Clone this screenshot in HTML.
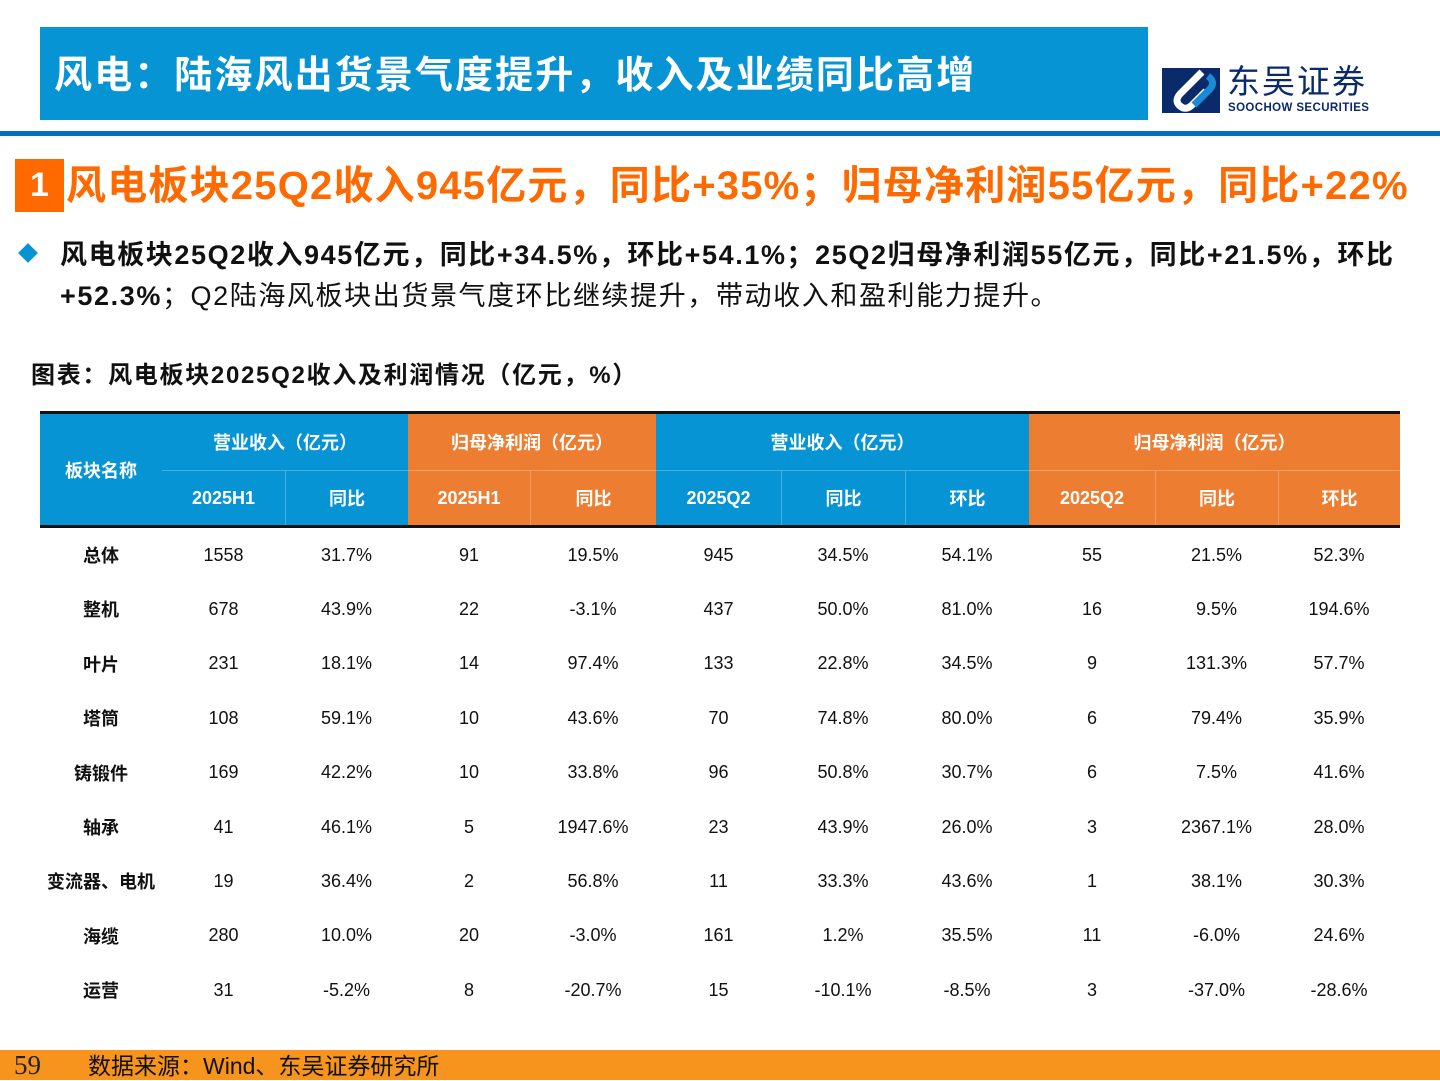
<!DOCTYPE html>
<html><head><meta charset="utf-8">
<style>
*{margin:0;padding:0;box-sizing:border-box}
body{width:1440px;height:1080px;position:relative;background:#fff;overflow:hidden;font-family:"Liberation Sans","Noto Sans CJK SC",sans-serif}
.abs{position:absolute}
.cell{position:absolute;display:flex;align-items:center;justify-content:center;white-space:nowrap}
</style></head><body>
<div class="abs" style="left:40px;top:27px;width:1108px;height:93px;background:#0794d4"></div>
<div class="abs" style="left:54px;top:52px;font-size:38px;line-height:48px;font-weight:bold;color:#fff;letter-spacing:2.1px;white-space:nowrap">风电：陆海风出货景气度提升，收入及业绩同比高增</div>
<div class="abs" style="left:1162px;top:68px;width:58px;height:45px">
<svg width="58" height="45"><rect x="0" y="0" width="58" height="45" fill="#0a2a6b"/><path d="M40 4 L18 26 Q12 33 18 38 Q24 43 30 37 L44 23" stroke="#fff" stroke-width="7" fill="none"/><path d="M46 8 Q54 14 48 21 L32 37" stroke="#1a8ad4" stroke-width="7" fill="none"/></svg></div>
<div class="abs" style="left:1227px;top:63px;font-size:33px;line-height:38px;color:#0a2a6b;letter-spacing:2px">东吴证券</div>
<div class="abs" style="left:1228px;top:102px;font-size:11.5px;line-height:13px;font-weight:bold;color:#0a2a6b;letter-spacing:0.4px">SOOCHOW SECURITIES</div>
<div class="abs" style="left:0;top:131px;width:1440px;height:5px;background:#0070c0"></div>
<div class="abs" style="left:15px;top:159px;width:49px;height:53px;background:#ff6a00;color:#fff;font-size:34px;font-weight:bold;text-align:center;line-height:53px">1</div>
<div class="abs" style="left:66px;top:160px;font-size:40px;line-height:52px;font-weight:bold;color:#ff6a00;white-space:nowrap;letter-spacing:1.2px">风电板块25Q2收入945亿元，同比+35%；归母净利润55亿元，同比+22%</div>
<div class="abs" style="left:21px;top:246px;width:14px;height:14px;background:#0794d4;transform:rotate(45deg)"></div>
<div class="abs" style="left:60px;top:235px;width:1380px;font-size:27px;line-height:41px;color:#111;white-space:nowrap;letter-spacing:1.6px"><b>风电板块25Q2收入945亿元，同比+34.5%，环比+54.1%；25Q2归母净利润55亿元，同比+21.5%，环比</b><br><b>+52.3%</b>；Q2陆海风板块出货景气度环比继续提升，带动收入和盈利能力提升。</div>
<div class="abs" style="left:31px;top:355px;font-size:24px;font-weight:bold;color:#111;letter-spacing:1.7px;white-space:nowrap">图表：风电板块2025Q2收入及利润情况（亿元，%）</div>
<div id="tbl" class="abs" style="left:0;top:0;width:1440px;height:1040px"></div>
<div class="abs" style="left:0;top:1050px;width:1440px;height:30px;background:#f7941d"></div>
<div class="abs" style="left:14px;top:1050px;font-family:'Liberation Serif',serif;font-size:27px;color:#222">59</div>
<div class="abs" style="left:88px;top:1051px;font-size:23px;line-height:30px;color:#111">数据来源：Wind、东吴证券研究所</div>
<script>
const cols=[40,162,285,408,530,656,781,905,1029,1155,1278,1400];
const rowNames=["总体","整机","叶片","塔筒","铸锻件","轴承","变流器、电机","海缆","运营"];
const revH1=["1558","678","231","108","169","41","19","280","31"];
const revH1Yoy=["31.7%","43.9%","18.1%","59.1%","42.2%","46.1%","36.4%","10.0%","-5.2%"];
const npH1=["91","22","14","10","10","5","2","20","8"];
const npH1Yoy=["19.5%","-3.1%","97.4%","43.6%","33.8%","1947.6%","56.8%","-3.0%","-20.7%"];
const revQ2=["945","437","133","70","96","23","11","161","15"];
const revQ2Yoy=["34.5%","50.0%","22.8%","74.8%","50.8%","43.9%","33.3%","1.2%","-10.1%"];
const revQ2Qoq=["54.1%","81.0%","34.5%","80.0%","30.7%","26.0%","43.6%","35.5%","-8.5%"];
const npQ2=["55","16","9","6","6","3","1","11","3"];
const npQ2Yoy=["21.5%","9.5%","131.3%","79.4%","7.5%","2367.1%","38.1%","-6.0%","-37.0%"];
const npQ2Qoq=["52.3%","194.6%","57.7%","35.9%","41.6%","28.0%","30.3%","24.6%","-28.6%"];
const series=[revH1,revH1Yoy,npH1,npH1Yoy,revQ2,revQ2Yoy,revQ2Qoq,npQ2,npQ2Yoy,npQ2Qoq];
const groups=[["营业收入（亿元）",1,3,"#0794d4"],["归母净利润（亿元）",3,5,"#ed7d31"],["营业收入（亿元）",5,8,"#0794d4"],["归母净利润（亿元）",8,11,"#ed7d31"]];
const subHeads=["2025H1","同比","2025H1","同比","2025Q2","同比","环比","2025Q2","同比","环比"];
const T=document.getElementById('tbl');
function box(l,t,w,h,css,txt){const d=document.createElement('div');d.className='cell';d.style.cssText+=`left:${l}px;top:${t}px;width:${w}px;height:${h}px;`+css;if(txt!=null)d.textContent=txt;T.appendChild(d);return d;}
const top0=414,mid=471,hb=525,rowH=54.4;
let e=box(cols[0],top0,cols[1]-cols[0],hb-top0,"background:#0794d4;color:#fff;font-weight:bold;font-size:18px;","板块名称");


groups.forEach((g,i)=>{
 let a=box(cols[g[1]],top0,cols[g[2]]-cols[g[1]],mid-top0,`background:${g[3]};color:#fff;font-weight:bold;font-size:18px;border-bottom:1px solid rgba(255,255,255,.25)`,g[0]);
 
 
 for(let c=g[1];c<g[2];c++){
  let s=box(cols[c],mid,cols[c+1]-cols[c],hb-mid,`background:${g[3]};color:#fff;font-weight:bold;font-size:18px;`+(c>g[1]?'border-left:1px solid rgba(255,255,255,.25)':''),subHeads[c-1]);
  
  
 }
});
let l1=box(cols[0],top0-3,cols[11]-cols[0],3,"background:#111");


let l2=box(cols[0],hb,cols[11]-cols[0],3,"background:#111");


rowNames.forEach((n,r)=>{
 const cy=555+r*rowH;
 let nm=box(cols[0],cy-18,cols[1]-cols[0],36,"font-weight:bold;font-size:18px;color:#111",n);
 
 
 series.forEach((s,c)=>{
  let v=box(cols[c+1],cy-18,cols[c+2]-cols[c+1],36,"font-size:18px;color:#111",s[r]);
  
  
 });
});
</script>
</body></html>
